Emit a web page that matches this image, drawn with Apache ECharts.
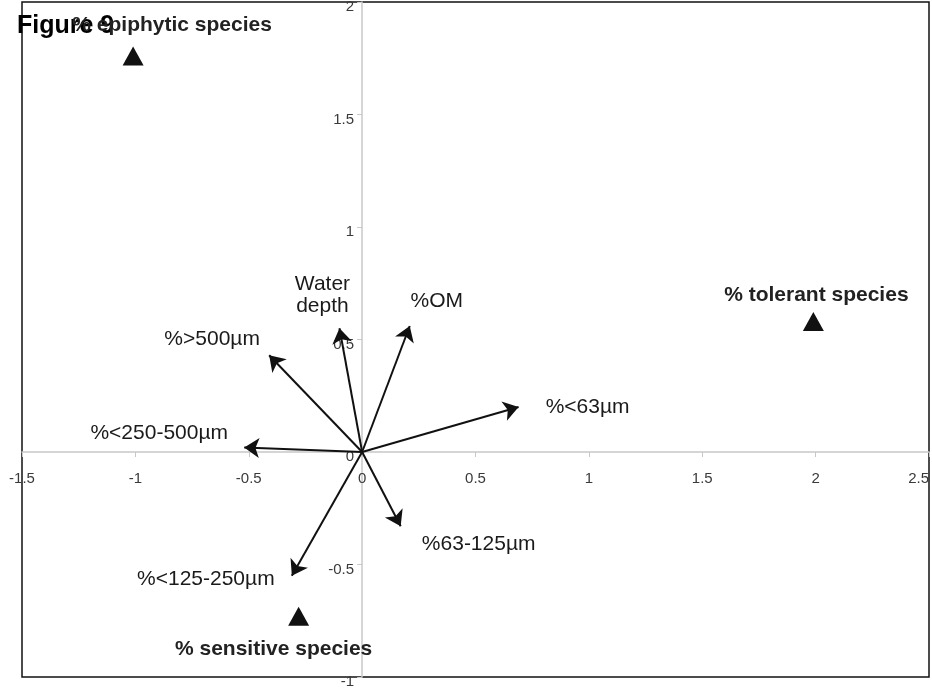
<!DOCTYPE html>
<html>
<head>
<meta charset="utf-8">
<script src="https://cdn.jsdelivr.net/npm/echarts@6/dist/echarts.min.js"></script>
<style>
html,body{margin:0;padding:0;background:#fff;}
#chart{width:932px;height:688px;}
</style>
</head>
<body>
<div id="chart"></div>
<script>
// Environmental variable vectors (arrow tips)
var varNames = ['Water\ndepth', '%OM', '%>500µm', '%<63µm', '%<250-500µm', '%63-125µm', '%<125-250µm'];
var varX = [-0.10, 0.21, -0.41, 0.69, -0.52, 0.17, -0.31];
var varY = [0.55, 0.56, 0.43, 0.20, 0.02, -0.33, -0.55];

// Species groups (triangles)
var spNames = ['% epiphytic species', '% tolerant species', '% sensitive species'];
var spX = [-1.01, 1.99, -0.28];
var spY = [1.76, 0.58, -0.73];

// Axis ticks
var xTicks = [-1.5, -1, -0.5, 0, 0.5, 1, 1.5, 2, 2.5];
var yTicks = [-1, -0.5, 0, 0.5, 1, 1.5, 2];

// label offsets (pixels) — styling only
var varLabelOffsets = [[-17, -33], [27, -25], [-57, -16], [69, 0], [-85, -14], [78, 18], [-86, 3]];
var spLabelOffsets = [[39, -31], [3, -26], [-25, 33]];

var chart = echarts.init(document.getElementById('chart'));
var font = '"Liberation Sans", Arial, sans-serif';

// grid geometry (pixels)
var G = { left: 22, right: 3, top: 2, bottom: 11 };
var gw = 932 - G.left - G.right;
var gh = 688 - G.top - G.bottom;
var xMin = xTicks[0], xMax = xTicks[xTicks.length - 1];
var yMin = yTicks[0], yMax = yTicks[yTicks.length - 1];
// offsets that move the axes onto the zero lines
var xAxisOffset = -gh * (0 - yMin) / (yMax - yMin);
var yAxisOffset = -gw * (0 - xMin) / (xMax - xMin);

var arrowData = varX.map(function (x, i) {
  return { coords: [[0, 0], [x, varY[i]]] };
});
var tipData = varX.map(function (x, i) {
  return {
    value: [x, varY[i]],
    name: varNames[i],
    label: { offset: varLabelOffsets[i] }
  };
});
var spData = spX.map(function (x, i) {
  return {
    value: [x, spY[i]],
    name: spNames[i],
    label: { offset: spLabelOffsets[i] }
  };
});

var option = {
  backgroundColor: '#fff',
  animation: false,
  title: {
    text: 'Figure 9',
    left: 12,
    top: 9,
    textStyle: { fontFamily: font, fontSize: 25, fontWeight: 'bold', color: '#000' }
  },
  grid: {
    left: G.left, right: G.right, top: G.top, bottom: G.bottom,
    outerBoundsMode: 'none',
    containLabel: false,
    show: true, borderColor: '#111', borderWidth: 1.5, backgroundColor: 'transparent'
  },
  xAxis: {
    type: 'value',
    position: 'bottom',
    offset: xAxisOffset,
    min: xMin, max: xMax, interval: 0.5,
    axisLine: { onZero: false, lineStyle: { color: '#c8c8c8', width: 1.5 } },
    axisTick: { show: true, length: 5, lineStyle: { color: '#c8c8c8' } },
    axisLabel: { showMinLabel: true, showMaxLabel: true, hideOverlap: false, alignMaxLabel: 'right', margin: 19, color: '#3a3a3a', fontSize: 15, fontFamily: font },
    splitLine: { show: false }
  },
  yAxis: {
    type: 'value',
    position: 'left',
    offset: yAxisOffset,
    min: yMin, max: yMax, interval: 0.5,
    axisLine: { onZero: false, lineStyle: { color: '#c8c8c8', width: 1.5 } },
    axisTick: { show: true, length: 5, lineStyle: { color: '#c8c8c8' } },
    axisLabel: { showMinLabel: true, showMaxLabel: true, hideOverlap: false, margin: 8, verticalAlign: 'top', lineHeight: 10, color: '#3a3a3a', fontSize: 15, fontFamily: font },
    splitLine: { show: false }
  },
  series: [
    {
      type: 'lines',
      coordinateSystem: 'cartesian2d',
      symbol: ['none', 'arrow'],
      symbolSize: 15,
      lineStyle: { color: '#111', width: 2, opacity: 1 },
      data: arrowData,
      z: 5
    },
    {
      type: 'scatter',
      symbolSize: 0,
      itemStyle: { opacity: 1 },
      data: tipData,
      label: {
        show: true,
        position: 'inside',
        formatter: '{b}',
        color: '#1a1a1a',
        opacity: 1,
        fontSize: 21,
        lineHeight: 22,
        align: 'center',
        verticalAlign: 'middle',
        fontFamily: font
      },
      z: 6
    },
    {
      type: 'scatter',
      symbol: 'triangle',
      symbolSize: [21, 19],
      itemStyle: { color: '#111', opacity: 1 },
      data: spData,
      label: {
        show: true,
        position: 'inside',
        formatter: '{b}',
        color: '#222',
        opacity: 1,
        fontSize: 21,
        fontWeight: 'bold',
        align: 'center',
        verticalAlign: 'middle',
        fontFamily: font
      },
      z: 7
    }
  ]
};
chart.setOption(option);
</script>
</body>
</html>
